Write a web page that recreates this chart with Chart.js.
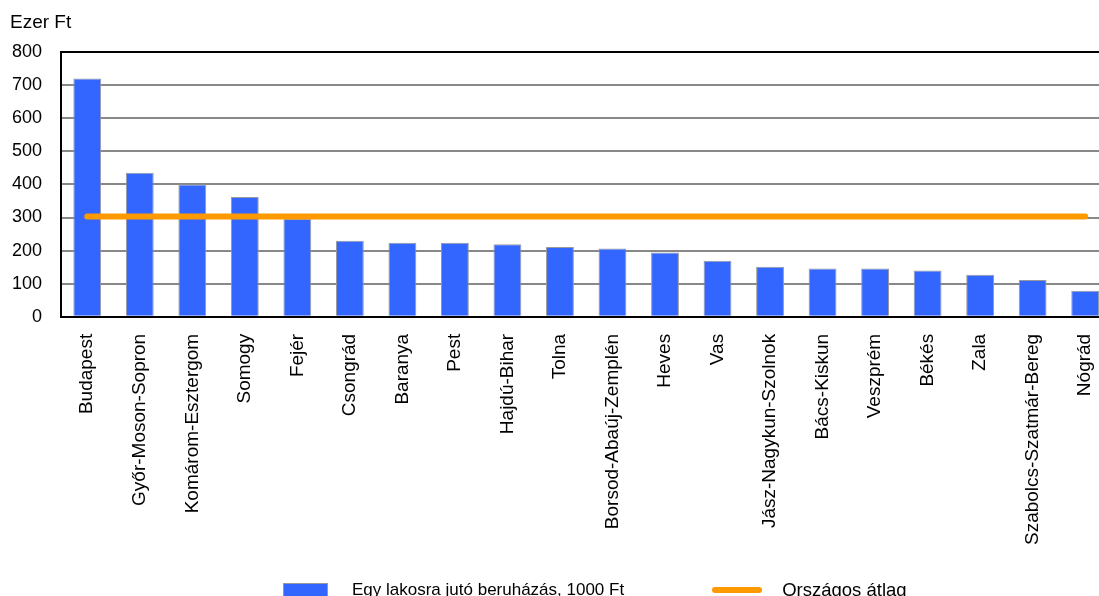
<!DOCTYPE html>
<html>
<head>
<meta charset="utf-8">
<script src="https://cdn.jsdelivr.net/npm/chart.js@4"></script>
<style>
    body { margin: 0; overflow: hidden; background: #fff; font-family: "Liberation Sans", Arial, sans-serif; }
    #wrap { position: relative; width: 1099px; height: 596px; overflow: hidden; }
    #unit { position: absolute; left: 10px; top: 11px; font-size: 19px; color: #000; }
    #legend { position: absolute; top: 579px; left: 283px; display: flex; align-items: center; font-size: 17px; color: #000; }
    .lg-item { display: flex; align-items: center; }
    .lg-box { width: 45px; height: 14px; background: #3366ff; border: 1px solid #999; box-sizing: border-box; margin-right: 24px; }
    .lg-line { width: 50px; height: 6px; background: #ff9900; border-radius: 3px; margin-right: 20px; }
</style>
</head>
<body>
<div id="wrap">
    <canvas id="chart" width="1125" height="596"></canvas>
    <div id="unit">Ezer Ft</div>
    <div id="legend"></div>
</div>
<script>
// Megyék
const counties = ['Budapest', 'Győr-Moson-Sopron', 'Komárom-Esztergom', 'Somogy', 'Fejér', 'Csongrád',
    'Baranya', 'Pest', 'Hajdú-Bihar', 'Tolna', 'Borsod-Abaúj-Zemplén', 'Heves', 'Vas',
    'Jász-Nagykun-Szolnok', 'Bács-Kiskun', 'Veszprém', 'Békés', 'Zala', 'Szabolcs-Szatmár-Bereg', 'Nógrád'];

// Egy lakosra jutó beruházás, ezer Ft
const investment = [720, 435, 400, 362, 296, 230, 224, 224, 219, 211, 206, 194, 169, 151, 146, 146, 140, 127, 111, 79];

// Országos átlag
const nationalAvg = [303, 303, 303, 303, 303, 303, 303, 303, 303, 303, 303, 303, 303, 303, 303, 303, 303, 303, 303, 303];

const yTicks = [0, 100, 200, 300, 400, 500, 600, 700, 800];

const barLabel = 'Egy lakosra jutó beruházás, 1000 Ft';
const lineLabel = 'Országos átlag';

const ctx = document.getElementById('chart').getContext('2d');
const chart = new Chart(ctx, {
    data: {
        labels: counties,
        datasets: [
            {
                type: 'line',
                label: lineLabel,
                data: nationalAvg,
                borderColor: '#ff9900',
                borderWidth: 6,
                borderCapStyle: 'round',
                pointRadius: 0,
                fill: false,
                order: 0
            },
            {
                type: 'bar',
                label: barLabel,
                data: investment,
                backgroundColor: '#3366ff',
                borderColor: '#999999',
                borderWidth: 1,
                barPercentage: 0.53,
                categoryPercentage: 1,
                order: 1
            }
        ]
    },
    options: {
        responsive: false,
        animation: false,
        layout: { padding: { top: 52, left: 0, right: 1, bottom: 34 } },
        plugins: {
            legend: { display: false },
            tooltip: { enabled: false }
        },
        scales: {
            x: {
                grid: { display: false, drawTicks: false },
                border: { color: '#000', width: 2 },
                ticks: {
                    color: '#000',
                    font: { family: '"Liberation Sans", Arial, sans-serif', size: 19 },
                    minRotation: 90,
                    maxRotation: 90,
                    autoSkip: false,
                    padding: 17
                }
            },
            y: {
                min: 0,
                max: 800,
                afterBuildTicks: function(axis) {
                    axis.ticks = yTicks.map(v => ({ value: v }));
                },
                afterFit: function(axis) {
                    axis.width = 61;
                },
                grid: {
                    color: c => (c.tick && c.tick.value === 800) ? '#000' : '#888',
                    lineWidth: 2,
                    drawTicks: false
                },
                border: { color: '#000', width: 2 },
                ticks: {
                    color: '#000',
                    font: { family: '"Liberation Sans", Arial, sans-serif', size: 18 },
                    padding: 19
                }
            }
        }
    }
});

// Jelmagyarázat
const legend = document.getElementById('legend');
legend.innerHTML = `
    <div class="lg-item" style="margin-right:88px"><span class="lg-box"></span><span>${barLabel}</span></div>
    <div class="lg-item"><span class="lg-line"></span><span style="font-size:18.5px">${lineLabel}</span></div>
`;
</script>
</body>
</html>
